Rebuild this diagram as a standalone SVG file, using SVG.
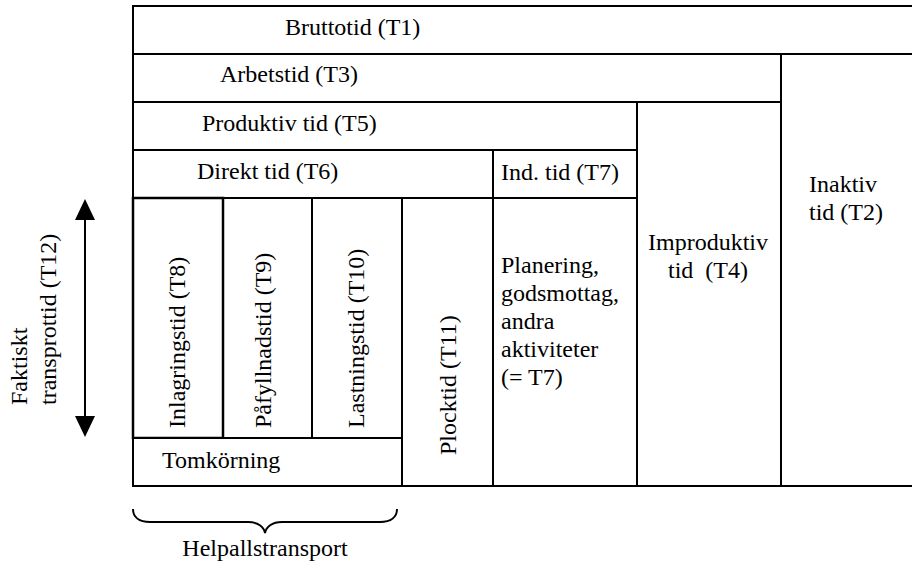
<svg xmlns="http://www.w3.org/2000/svg" width="912" height="570" viewBox="0 0 912 570">
  <defs>
    <style>
      .cell { fill: #ffffff; stroke: #000000; stroke-width: 2; }
      .thick { stroke-width: 2.5; }
      .lbl { font-size: 24px; fill: #000000; }
      .mid { text-anchor: middle; }
      .conn { fill: none; stroke: #000000; stroke-width: 2; }
    </style>
    <marker id="head" viewBox="0 0 21 20" markerWidth="21" markerHeight="20" refX="11" refY="10" markerUnits="userSpaceOnUse" orient="auto-start-reverse">
      <path d="M0,0 L21,10 L0,20 z" fill="#000000"/>
    </marker>
  </defs>

  <rect width="912" height="570" fill="#ffffff"/>

  <g font-family="'Liberation Serif', Tinos, 'Times New Roman', 'DejaVu Serif', serif">
  <!-- top levels of the time breakdown -->
  <g id="t1">
    <rect class="cell" x="133" y="6" width="790" height="48"/>
    <text class="lbl" x="285" y="35">Bruttotid (T1)</text>
  </g>
  <g id="t3">
    <rect class="cell" x="133" y="54" width="648" height="48"/>
    <text class="lbl" x="220" y="82">Arbetstid (T3)</text>
  </g>
  <g id="t2">
    <rect class="cell" x="781" y="54" width="142" height="432"/>
    <text class="lbl" x="809" y="192">Inaktiv</text>
    <text class="lbl" x="809" y="220">tid (T2)</text>
  </g>
  <g id="t5">
    <rect class="cell" x="133" y="102" width="504" height="48"/>
    <text class="lbl" x="202" y="131">Produktiv tid (T5)</text>
  </g>
  <g id="t4">
    <rect class="cell" x="637" y="102" width="144" height="384"/>
    <text class="lbl mid" x="708" y="250">Improduktiv</text>
    <text class="lbl mid" x="708" y="278" xml:space="preserve">tid  (T4)</text>
  </g>
  <g id="t6">
    <rect class="cell" x="133" y="150" width="360" height="48"/>
    <text class="lbl" x="197" y="179">Direkt tid (T6)</text>
  </g>
  <g id="t7">
    <rect class="cell" x="493" y="150" width="144" height="48"/>
    <text class="lbl" x="501" y="180">Ind. tid (T7)</text>
  </g>
  <g id="t7-activities">
    <rect class="cell" x="493" y="198" width="144" height="288"/>
    <text class="lbl" x="501" y="273">Planering,</text>
    <text class="lbl" x="501" y="301">godsmottag,</text>
    <text class="lbl" x="501" y="329">andra</text>
    <text class="lbl" x="501" y="357">aktiviteter</text>
    <text class="lbl" x="501" y="385">(= T7)</text>
  </g>

  <!-- direct time columns -->
  <g id="t9">
    <rect class="cell" x="223" y="198" width="89" height="240"/>
    <text class="lbl" transform="translate(271,428) rotate(-90)">Påfyllnadstid (T9)</text>
  </g>
  <g id="t10">
    <rect class="cell" x="312" y="198" width="90" height="240"/>
    <text class="lbl" transform="translate(364,428) rotate(-90)">Lastningstid (T10)</text>
  </g>
  <g id="t8">
    <rect class="cell thick" x="133" y="198" width="90" height="240"/>
    <text class="lbl" transform="translate(185,428) rotate(-90)">Inlagringstid (T8)</text>
  </g>
  <g id="tomkorning">
    <rect class="cell" x="133" y="438" width="269" height="48"/>
    <text class="lbl" x="162" y="468">Tomkörning</text>
  </g>
  <g id="t11">
    <rect class="cell" x="402" y="198" width="91" height="288"/>
    <text class="lbl" transform="translate(456,455) rotate(-90)">Plocktid (T11)</text>
  </g>

  <!-- side annotation -->
  <g id="t12">
    <text class="lbl" transform="translate(27,405) rotate(-90)">Faktiskt</text>
    <text class="lbl" transform="translate(56,405) rotate(-90)">transprottid (T12)</text>
  </g>
  <g id="helpall">
    <text class="lbl mid" x="265" y="556">Helpallstransport</text>
  </g>
  </g>

  <g id="connectors">
    <line class="conn" x1="85" y1="209" x2="85" y2="427" marker-start="url(#head)" marker-end="url(#head)"/>
    <path class="conn" stroke-width="1.6" d="M133,509 C133,517 139,522 150,522 L248,522 C258,522 264,527 265,533 C266,527 272,522 282,522 L380,522 C391,522 397,517 397,509"/>
  </g>
</svg>
